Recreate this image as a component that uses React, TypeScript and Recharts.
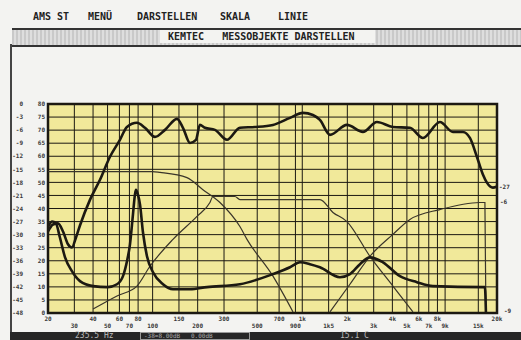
import { LineChart, Line, XAxis, YAxis, CartesianGrid, ReferenceArea } from "recharts";

// frequency axis (Hz) and its labels, two staggered rows
const FREQ_TICKS = [20, 30, 40, 50, 60, 70, 80, 100, 150, 200, 300, 500, 700, 900, 1000, 1500, 2000, 3000, 4000, 5000, 6000, 7000, 8000, 9000, 15000, 20000];
const FREQ_LABELS = ["20", "30", "40", "50", "60", "70", "80", "100", "150", "200", "300", "500", "700", "900", "1k", "1k5", "2k", "3k", "4k", "5k", "6k", "7k", "8k", "9k", "15k", "20k"];
const FREQ_ROW = [0, 1, 0, 1, 0, 1, 0, 1, 0, 1, 0, 1, 0, 1, 0, 1, 0, 1, 0, 1, 0, 1, 0, 1, 1, 0];

// level axis, 0..80 with a dB column next to it
const LEVEL_TICKS = [0, 5, 10, 15, 20, 25, 30, 35, 40, 45, 50, 55, 60, 65, 70, 75, 80];

const MENU = ["AMS ST", "MENÜ", "DARSTELLEN", "SKALA", "LINIE"];
const MENU_X = [33, 88, 137, 220, 278];

// measured curves: [Hz, level]
const spl = [
  [20, 31.2], [21.6, 33.9], [23.3, 34.3], [25.2, 31.2], [27.2, 26.3], [28.9, 25.1], [30.8, 29.0],
  [32.7, 33.5], [38.2, 43.4], [44.5, 51.0], [51.9, 59.8], [60.5, 66.3], [67.4, 71.2], [78.6, 72.8],
  [88.9, 70.9], [103.7, 67.4], [121, 70.1], [145.5, 74.3], [159.5, 70.9], [177.7, 65.1], [194.8, 66.3],
  [207, 72.0], [223.8, 70.9], [261, 70.1], [314, 66.3], [383, 70.9], [483, 71.2], [637, 72.0],
  [828, 74.7], [1010, 76.6], [1178, 75.8], [1312, 73.9], [1531, 68.2], [1988, 72.0], [2543, 69.3],
  [3154, 73.1], [4033, 71.2], [5238, 70.9], [6398, 67.0], [8314, 73.1], [10150, 69.3], [11838, 69.3],
  [13183, 67.0], [14680, 59.8], [16100, 53.0], [17125, 49.9], [18777, 48.0], [20000, 48.4],
];

const lower = [
  [20, 32.8], [21.3, 35.0], [22.6, 34.3], [24.0, 29.0], [26.0, 21.3], [28.9, 16.0], [32.7, 12.2],
  [40, 10.3], [50, 9.9], [57.8, 11.0], [63.4, 14.1], [67.4, 19.8], [70.6, 26.3], [73.9, 37.7],
  [76.2, 45.3], [77.4, 47.2], [79.8, 45.3], [82.4, 41.5], [86.2, 30.9], [91.7, 21.7], [100.6, 15.6],
  [117.3, 11.0], [136.8, 9.1], [177.7, 9.1], [230.8, 9.9], [383, 11.0], [637, 14.9], [828, 17.5],
  [965, 19.4], [1125, 18.7], [1312, 17.5], [1785, 13.7], [2082, 14.9], [2429, 18.7], [2832, 21.3],
  [3459, 19.4], [4492, 14.1], [5833, 11.8], [7463, 10.3], [16100, 9.9], [16606, 9.9], [16864, 0.4],
];

const woofer = [
  [20, 54.1], [100, 54.1], [112, 53.8], [169.6, 51.8], [216.9, 47.2], [281.8, 42.3],
  [383, 33.1], [427, 28.2], [637, 14.1], [867, 0.4],
];

const mid = [
  [40, 1.5], [57.8, 6.5], [78.6, 10.3], [96, 17.9], [136.8, 28.2], [197.9, 37.0], [241.6, 42.3],
  [253, 44.6], [355, 44.6], [383, 43.4], [1312, 43.4], [1603, 38.5], [1988, 35.0], [2832, 21.7],
  [4033, 10.3], [5485, 0.4],
];

const tweeter = [
  [1531, 0.4], [2082, 11.0], [2832, 21.7], [4033, 30.1], [5238, 35.8], [8314, 39.6],
  [15375, 42.3], [16606, 42.3], [16864, 0.4],
];

const toPts = (arr: number[][]) => arr.map(([f, v]) => ({ f, v }));

const INK = "#1c1912";
const MONO = '"DejaVu Sans Mono", monospace';

const YTick = (props: any) => {
  const { y, payload } = props;
  const v = payload.value;
  const db = ((v - 80) * 3) / 5;
  return (
    <g fontFamily={MONO} fontSize={6} fontWeight="bold" fill="#3a3a3a">
      <text x={23} y={y} dy={2.2} textAnchor="end">{db}</text>
      <text x={45} y={y} dy={2.2} textAnchor="end">{v}</text>
    </g>
  );
};

const XTick = (props: any) => {
  const { x, payload } = props;
  const i = FREQ_TICKS.indexOf(payload.value);
  if (i < 0) return null;
  const row = FREQ_ROW[i];
  return (
    <text x={x} y={row ? 328 : 321} textAnchor="middle" fontFamily={MONO} fontSize={6} fontWeight="bold" fill="#3a3a3a">
      {FREQ_LABELS[i]}
    </text>
  );
};

export default function App() {
  return (
    <div style={{ position: "absolute", left: 0, top: 0, width: 521, height: 340, background: "#f3f3f1", overflow: "hidden", fontFamily: MONO }}>
      {MENU.map((m, i) => (
        <div key={m} style={{ position: "absolute", left: MENU_X[i], top: 11, fontSize: 10, fontWeight: "bold", color: "#222", lineHeight: "12px", whiteSpace: "pre" }}>
          {m}
        </div>
      ))}
      <div style={{ position: "absolute", left: 12, top: 28, width: 509, height: 15, borderTop: "2px solid #333", borderBottom: "2px solid #333", background: "repeating-linear-gradient(90deg, #c9c9c9 0px, #c9c9c9 2px, #dedede 2px, #dedede 4px)" }} />
      <div style={{ position: "absolute", left: 160, top: 30, width: 215, height: 13, background: "#f3f3f1" }} />
      <div style={{ position: "absolute", left: 168, top: 30, fontSize: 10, fontWeight: "bold", color: "#222", lineHeight: "13px", whiteSpace: "pre" }}>
        KEMTEC   MESSOBJEKTE DARSTELLEN
      </div>
      <div style={{ position: "absolute", left: 10, top: 44, width: 2, height: 296, background: "#444" }} />

      <div style={{ position: "absolute", left: 0, top: 0 }}>
        <LineChart width={521} height={340} margin={{ top: 104, right: 24, bottom: 0, left: 0 }}>
          <CartesianGrid fill="#f1e99a" stroke={INK} strokeWidth={1} />
          <XAxis
            dataKey="f"
            type="number"
            scale="log"
            domain={[20, 20000]}
            ticks={FREQ_TICKS}
            interval={0}
            allowDataOverflow
            height={27}
            axisLine={false}
            tickLine={false}
            tick={<XTick />}
          />
          <YAxis
            type="number"
            domain={[0, 80]}
            ticks={LEVEL_TICKS}
            interval={0}
            width={48}
            axisLine={false}
            tickLine={false}
            tick={<YTick />}
          />
          <ReferenceArea x1={20} x2={20000} y1={0} y2={80} fill="none" stroke={INK} strokeWidth={2.5} ifOverflow="visible" />
          <Line data={toPts(woofer)} dataKey="v" type="monotone" dot={false} stroke="#3a352a" strokeWidth={1.2} isAnimationActive={false} />
          <Line data={toPts(mid)} dataKey="v" type="monotone" dot={false} stroke="#3a352a" strokeWidth={1.2} isAnimationActive={false} />
          <Line data={toPts(tweeter)} dataKey="v" type="monotone" dot={false} stroke="#3a352a" strokeWidth={1.2} isAnimationActive={false} />
          <Line data={toPts(lower)} dataKey="v" type="monotone" dot={false} stroke={INK} strokeWidth={2.6} isAnimationActive={false} />
          <Line data={toPts(spl)} dataKey="v" type="monotone" dot={false} stroke={INK} strokeWidth={2.6} isAnimationActive={false} />
        </LineChart>
      </div>

      <div style={{ position: "absolute", left: 499, top: 183, fontSize: 6, fontWeight: "bold", color: "#333" }}>-27</div>
      <div style={{ position: "absolute", left: 500, top: 198, fontSize: 6, fontWeight: "bold", color: "#333" }}>-6</div>
      <div style={{ position: "absolute", left: 504, top: 307, fontSize: 6, fontWeight: "bold", color: "#333" }}>-9</div>

      <div style={{ position: "absolute", left: 10, top: 332, width: 511, height: 8, background: "#262626" }} />
      <div style={{ position: "absolute", left: 75, top: 331, fontSize: 8, color: "#bbb", lineHeight: "9px", whiteSpace: "pre" }}>235.5 Hz</div>
      <div style={{ position: "absolute", left: 140, top: 332, width: 110, height: 8, border: "1px solid #999", boxSizing: "border-box" }} />
      <div style={{ position: "absolute", left: 144, top: 332, fontSize: 6, color: "#aaa", lineHeight: "8px", whiteSpace: "pre" }}>-38=8.00dB   0.00dB</div>
      <div style={{ position: "absolute", left: 340, top: 331, fontSize: 8, color: "#bbb", lineHeight: "9px", whiteSpace: "pre" }}>15.1 C</div>
    </div>
  );
}
